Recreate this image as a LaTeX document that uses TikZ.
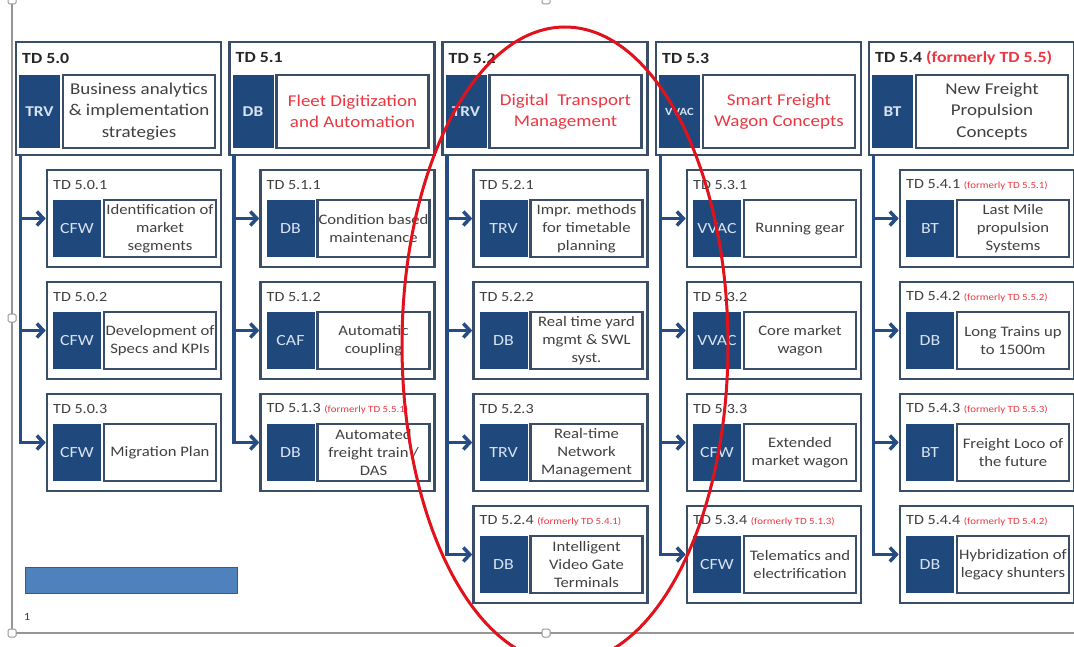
\documentclass[tikz,border=0pt]{standalone}
\usepackage{fontspec}
\setmainfont{Carlito}[FakeStretch=1.15]
\usetikzlibrary{arrows.meta}
\definecolor{tdblue}{RGB}{31,73,125}
\definecolor{tdedge}{RGB}{58,78,104}
\definecolor{tdline}{RGB}{38,76,132}
\definecolor{tdpale}{RGB}{215,227,242}
\definecolor{tdgray}{RGB}{64,64,64}
\definecolor{tdred}{RGB}{235,55,65}
\definecolor{tdring}{RGB}{225,18,28}
\definecolor{tdframe}{RGB}{150,150,150}
\definecolor{tdbar}{RGB}{79,129,189}
\newcommand{\tdHeadFont}{\fontsize{16.5}{21.5}\selectfont}
\newcommand{\tdNumFont}{\fontsize{15.5}{18}\selectfont\bfseries}
\newcommand{\tdSubFont}{\fontsize{14.5}{18}\selectfont}
\newcommand{\tdSubNumFont}{\fontsize{14}{16}\selectfont}
\newcommand{\tdTagFont}{\fontsize{15.5}{18}\selectfont}
\newcommand{\tdHeadTagFont}{\fontsize{15}{18}\selectfont\bfseries}
\newcommand{\tdNoteFont}{\fontsize{9.5}{11}\selectfont}
\tikzstyle{hd}=[rectangle,draw=tdedge,line width=2.6pt,fill=white,
  minimum width=205pt,minimum height=113pt,inner sep=0pt]
\tikzstyle{sub}=[rectangle,draw=tdedge,line width=2.6pt,fill=white,
  minimum width=174pt,minimum height=97pt,inner sep=0pt]
\tikzstyle{hdtag}=[rectangle,fill=tdblue,text=tdpale,font=\tdHeadTagFont,
  minimum width=41pt,minimum height=73pt,inner sep=0pt]
\tikzstyle{hdtext}=[rectangle,draw=tdedge,line width=2.3pt,fill=white,text=tdgray,
  align=center,font=\tdHeadFont,minimum width=152pt,minimum height=73pt,inner sep=0pt]
\tikzstyle{hdtitle}=[anchor=west,inner sep=0pt,font=\tdNumFont,text=black!85]
\tikzstyle{subtag}=[rectangle,fill=tdblue,text=tdpale,font=\tdTagFont,
  minimum width=48pt,minimum height=57pt,inner sep=0pt]
\tikzstyle{subtext}=[rectangle,draw=tdedge,line width=2.3pt,fill=white,text=tdgray,
  align=center,font=\tdSubFont,minimum width=112pt,minimum height=57pt,inner sep=0pt]
\tikzstyle{subtitle}=[anchor=west,inner sep=0pt,font=\tdSubNumFont,text=tdgray]
\tikzstyle{feed}=[draw=tdline,line width=3.5pt,-{Straight Barb[length=6.5pt,width=14pt]}]
\tikzstyle{ring}=[draw=tdring,line width=3pt]
\tikzstyle{frame}=[draw=tdframe,line width=1.5pt]
\tikzstyle{handle}=[rectangle,rounded corners=1.5pt,draw=tdframe,fill=white,
  line width=1pt,minimum width=8pt,minimum height=8pt,inner sep=0pt]
\tikzstyle{bar}=[rectangle,fill=tdbar,draw=tdbar!70!black,line width=0.8pt,
  minimum width=212pt,minimum height=26pt,inner sep=0pt]
\tikzstyle{none}=[]

\begin{document}
\begin{tikzpicture}[x=1pt,y=-1pt]
    \useasboundingbox (0, 0) rectangle (1074, 647);
    % slide frame
    \node [style=none] (k0) at (12, 0) {};
    \node [style=none] (k1) at (12, 318) {};
    \node [style=none] (k2) at (12, 633) {};
    \node [style=none] (k3) at (546, 633) {};
    \node [style=none] (k4) at (546, 0) {};
    \coordinate (fe) at (1074, 633);
    \draw [style=frame] (k0.center) to (k2.center) to (fe);
    \node [style=handle] (k0h) at (k0) {};
    \node [style=handle] (k1h) at (k1) {};
    \node [style=handle] (k2h) at (k2) {};
    \node [style=handle] (k3h) at (k3) {};
    \node [style=handle] (k4h) at (k4) {};

    % TD 5.0
    \node [style=hd] (h0) at (118.5, 98.5) {};
    \node [style=hdtitle] (h0n) at (22, 58) {TD 5.0};
    \node [style=hdtag] (h0a) at (39.5, 111.5) {TRV};
    \node [style=hdtext] (h0b) at (139, 111.5) {Business analytics\\\& implementation\\strategies};
    \node [style=sub] (s01) at (134, 218.5) {};
    \node [style=subtitle] (s01n) at (53, 185) {TD 5.0.1};
    \node [style=subtag] (s01a) at (77, 228.5) {CFW};
    \node [style=subtext] (s01b) at (160, 228.5) {Identification of\\market\\segments};
    \node [style=sub] (s02) at (134, 330.5) {};
    \node [style=subtitle] (s02n) at (53, 297) {TD 5.0.2};
    \node [style=subtag] (s02a) at (77, 340.5) {CFW};
    \node [style=subtext] (s02b) at (160, 340.5) {Development of\\Specs and KPIs};
    \node [style=sub] (s03) at (134, 442.5) {};
    \node [style=subtitle] (s03n) at (53, 409) {TD 5.0.3};
    \node [style=subtag] (s03a) at (77, 452.5) {CFW};
    \node [style=subtext] (s03b) at (160, 452.5) {Migration Plan};

    % TD 5.1
    \node [style=hd] (h1) at (332, 98.5) {};
    \node [style=hdtitle] (h1n) at (235.5, 58) {TD 5.1};
    \node [style=hdtag] (h1a) at (253, 111.5) {DB};
    \node [style=hdtext, text=tdred] (h1b) at (352.5, 111.5) {Fleet Digitization\\and Automation};
    \node [style=sub] (s11) at (347.5, 218.5) {};
    \node [style=subtitle] (s11n) at (266.5, 185) {TD 5.1.1};
    \node [style=subtag] (s11a) at (290.5, 228.5) {DB};
    \node [style=subtext] (s11b) at (373.5, 228.5) {Condition based\\maintenance};
    \node [style=sub] (s12) at (347.5, 330.5) {};
    \node [style=subtitle] (s12n) at (266.5, 297) {TD 5.1.2};
    \node [style=subtag] (s12a) at (290.5, 340.5) {CAF};
    \node [style=subtext] (s12b) at (373.5, 340.5) {Automatic\\coupling};
    \node [style=sub] (s13) at (347.5, 442.5) {};
    \node [style=subtitle] (s13n) at (266.5, 409) {TD 5.1.3 {\tdNoteFont\color{tdred}(formerly TD 5.5.1)}};
    \node [style=subtag] (s13a) at (290.5, 452.5) {DB};
    \node [style=subtext] (s13b) at (373.5, 452.5) {Automated\\freight train /\\DAS};

    % TD 5.2
    \node [style=hd] (h2) at (545, 98.5) {};
    \node [style=hdtitle] (h2n) at (448.5, 58) {TD 5.2};
    \node [style=hdtag] (h2a) at (466, 111.5) {TRV};
    \node [style=hdtext, text=tdred] (h2b) at (565.5, 111.5) {Digital~ Transport\\Management};
    \node [style=sub] (s21) at (560.5, 218.5) {};
    \node [style=subtitle] (s21n) at (479.5, 185) {TD 5.2.1};
    \node [style=subtag] (s21a) at (503.5, 228.5) {TRV};
    \node [style=subtext] (s21b) at (586.5, 228.5) {Impr. methods\\for timetable\\planning};
    \node [style=sub] (s22) at (560.5, 330.5) {};
    \node [style=subtitle] (s22n) at (479.5, 297) {TD 5.2.2};
    \node [style=subtag] (s22a) at (503.5, 340.5) {DB};
    \node [style=subtext] (s22b) at (586.5, 340.5) {Real time yard\\mgmt \& SWL\\syst.};
    \node [style=sub] (s23) at (560.5, 442.5) {};
    \node [style=subtitle] (s23n) at (479.5, 409) {TD 5.2.3};
    \node [style=subtag] (s23a) at (503.5, 452.5) {TRV};
    \node [style=subtext] (s23b) at (586.5, 452.5) {Real-time\\Network\\Management};
    \node [style=sub] (s24) at (560.5, 554.5) {};
    \node [style=subtitle] (s24n) at (479.5, 521) {TD 5.2.4 {\tdNoteFont\color{tdred}(formerly TD 5.4.1)}};
    \node [style=subtag] (s24a) at (503.5, 564.5) {DB};
    \node [style=subtext] (s24b) at (586.5, 564.5) {Intelligent\\Video Gate\\Terminals};

    % TD 5.3
    \node [style=hd] (h3) at (758.5, 98.5) {};
    \node [style=hdtitle] (h3n) at (662, 58) {TD 5.3};
    \node [style=hdtag, font=\fontsize{11}{13}\selectfont\bfseries] (h3a) at (679.5, 111.5) {VVAC};
    \node [style=hdtext, text=tdred] (h3b) at (779, 111.5) {Smart Freight\\Wagon Concepts};
    \node [style=sub] (s31) at (774, 218.5) {};
    \node [style=subtitle] (s31n) at (693, 185) {TD 5.3.1};
    \node [style=subtag] (s31a) at (717, 228.5) {VVAC};
    \node [style=subtext] (s31b) at (800, 228.5) {Running gear};
    \node [style=sub] (s32) at (774, 330.5) {};
    \node [style=subtitle] (s32n) at (693, 297) {TD 5.3.2};
    \node [style=subtag] (s32a) at (717, 340.5) {VVAC};
    \node [style=subtext] (s32b) at (800, 340.5) {Core market\\wagon};
    \node [style=sub] (s33) at (774, 442.5) {};
    \node [style=subtitle] (s33n) at (693, 409) {TD 5.3.3};
    \node [style=subtag] (s33a) at (717, 452.5) {CFW};
    \node [style=subtext] (s33b) at (800, 452.5) {Extended\\market wagon};
    \node [style=sub] (s34) at (774, 554.5) {};
    \node [style=subtitle] (s34n) at (693, 521) {TD 5.3.4 {\tdNoteFont\color{tdred}(formerly TD 5.1.3)}};
    \node [style=subtag] (s34a) at (717, 564.5) {CFW};
    \node [style=subtext] (s34b) at (800, 564.5) {Telematics and\\electrification};

    % TD 5.4
    \node [style=hd] (h4) at (971.5, 98.5) {};
    \node [style=hdtitle] (h4n) at (875, 58) {TD 5.4 \textcolor{tdred}{(formerly TD 5.5)}};
    \node [style=hdtag] (h4a) at (892.5, 111.5) {BT};
    \node [style=hdtext] (h4b) at (992, 111.5) {New Freight\\Propulsion\\Concepts};
    \node [style=sub] (s41) at (987, 218.5) {};
    \node [style=subtitle] (s41n) at (906, 185) {TD 5.4.1 {\tdNoteFont\color{tdred}(formerly TD 5.5.1)}};
    \node [style=subtag] (s41a) at (930, 228.5) {BT};
    \node [style=subtext] (s41b) at (1013, 228.5) {Last Mile\\propulsion\\Systems};
    \node [style=sub] (s42) at (987, 330.5) {};
    \node [style=subtitle] (s42n) at (906, 297) {TD 5.4.2 {\tdNoteFont\color{tdred}(formerly TD 5.5.2)}};
    \node [style=subtag] (s42a) at (930, 340.5) {DB};
    \node [style=subtext] (s42b) at (1013, 340.5) {Long Trains up\\to 1500m};
    \node [style=sub] (s43) at (987, 442.5) {};
    \node [style=subtitle] (s43n) at (906, 409) {TD 5.4.3 {\tdNoteFont\color{tdred}(formerly TD 5.5.3)}};
    \node [style=subtag] (s43a) at (930, 452.5) {BT};
    \node [style=subtext] (s43b) at (1013, 452.5) {Freight Loco of\\the future};
    \node [style=sub] (s44) at (987, 554.5) {};
    \node [style=subtitle] (s44n) at (906, 521) {TD 5.4.4 {\tdNoteFont\color{tdred}(formerly TD 5.4.2)}};
    \node [style=subtag] (s44a) at (930, 564.5) {DB};
    \node [style=subtext] (s44b) at (1013, 564.5) {Hybridization of\\legacy shunters};

    % footer
    \node [style=bar] (bar) at (131, 580) {};
    \node [style=none, font=\fontsize{11}{13}\selectfont, text=tdgray] (pg) at (27, 617) {1};

    % feeds
    \draw [style=feed] ([xshift=6pt]h0.south west) |- (s01);
    \draw [style=feed] ([xshift=6pt]h0.south west) |- (s02);
    \draw [style=feed] ([xshift=6pt]h0.south west) |- (s03);
    \draw [style=feed] ([xshift=6pt]h1.south west) |- (s11);
    \draw [style=feed] ([xshift=6pt]h1.south west) |- (s12);
    \draw [style=feed] ([xshift=6pt]h1.south west) |- (s13);
    \draw [style=feed] ([xshift=6pt]h2.south west) |- (s21);
    \draw [style=feed] ([xshift=6pt]h2.south west) |- (s22);
    \draw [style=feed] ([xshift=6pt]h2.south west) |- (s23);
    \draw [style=feed] ([xshift=6pt]h2.south west) |- (s24);
    \draw [style=feed] ([xshift=6pt]h3.south west) |- (s31);
    \draw [style=feed] ([xshift=6pt]h3.south west) |- (s32);
    \draw [style=feed] ([xshift=6pt]h3.south west) |- (s33);
    \draw [style=feed] ([xshift=6pt]h3.south west) |- (s34);
    \draw [style=feed] ([xshift=6pt]h4.south west) |- (s41);
    \draw [style=feed] ([xshift=6pt]h4.south west) |- (s42);
    \draw [style=feed] ([xshift=6pt]h4.south west) |- (s43);
    \draw [style=feed] ([xshift=6pt]h4.south west) |- (s44);

    % red marking
    \draw [style=ring] (565, 345) ellipse [x radius=163pt, y radius=318pt];
\end{tikzpicture}
\end{document}
